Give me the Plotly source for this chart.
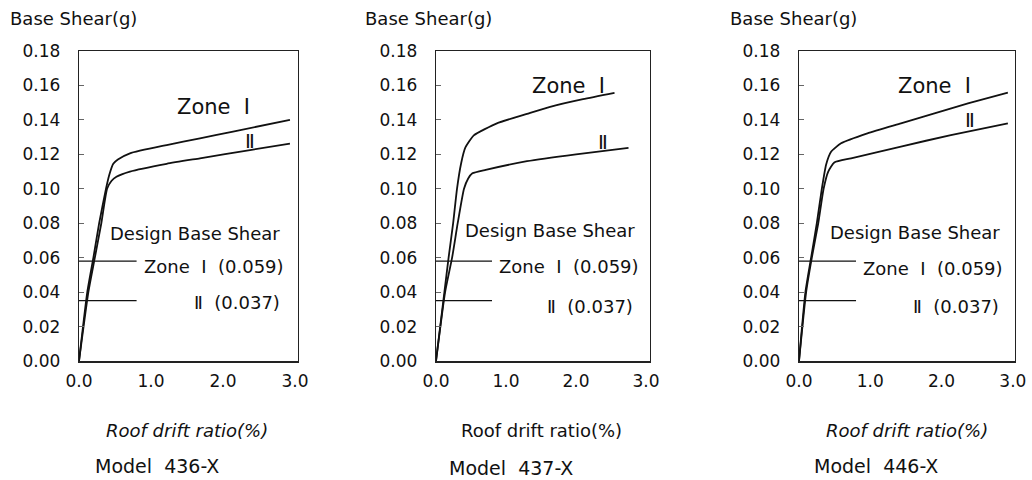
import plotly.graph_objects as go

# ---------------- data ----------------
models = ["Model  436-X", "Model  437-X", "Model  446-X"]

# Pushover curves (roof drift ratio %, base shear g)
p1_zone1_x = [0, 0.115, 0.20, 0.28, 0.375, 0.42, 0.476, 0.54, 0.708, 1.218, 1.68, 2.14, 2.93]
p1_zone1_y = [0, 0.040, 0.060, 0.080, 0.100, 0.108, 0.1145, 0.117, 0.1206, 0.1254, 0.1293, 0.1332, 0.140]
p1_zone2_x = [0, 0.13, 0.22, 0.31, 0.39, 0.45, 0.52, 0.708, 1.218, 1.68, 2.375, 2.93]
p1_zone2_y = [0, 0.040, 0.060, 0.080, 0.100, 0.1045, 0.107, 0.110, 0.1145, 0.1177, 0.1225, 0.1262]

p2_zone1_x = [0, 0.12, 0.18, 0.245, 0.30, 0.36, 0.42, 0.54, 0.87, 1.30, 1.63, 2.10, 2.55]
p2_zone1_y = [0, 0.040, 0.060, 0.080, 0.100, 0.115, 0.124, 0.131, 0.138, 0.1435, 0.1476, 0.152, 0.1557]
p2_zone2_x = [0, 0.13, 0.23, 0.31, 0.40, 0.46, 0.52, 0.71, 1.30, 2.00, 2.75]
p2_zone2_y = [0, 0.040, 0.060, 0.080, 0.100, 0.106, 0.109, 0.111, 0.116, 0.120, 0.1237]

p3_zone1_x = [0, 0.09, 0.17, 0.25, 0.32, 0.38, 0.45, 0.59, 0.96, 1.43, 1.90, 2.37, 2.93]
p3_zone1_y = [0, 0.040, 0.060, 0.080, 0.100, 0.114, 0.1215, 0.1264, 0.1322, 0.138, 0.1438, 0.1496, 0.1558]
p3_zone2_x = [0, 0.10, 0.18, 0.27, 0.345, 0.41, 0.495, 0.73, 1.43, 2.13, 2.93]
p3_zone2_y = [0, 0.040, 0.060, 0.080, 0.100, 0.110, 0.1153, 0.1177, 0.1245, 0.1312, 0.138]

design_x = [0, 0.8]
design_zone1 = 0.058
design_zone2 = 0.035

x_ticks = [0, 1, 2, 3]
x_tick_text = ["0.0", "1.0", "2.0", "3.0"]
y_ticks = [0, 0.02, 0.04, 0.06, 0.08, 0.10, 0.12, 0.14, 0.16, 0.18]
y_tick_text = ["0.00", "0.02", "0.04", "0.06", "0.08", "0.10", "0.12", "0.14", "0.16", "0.18"]

# label positions (data coords) per panel: design, zone1 design, zone2 design, zone1 curve, zone2 curve
panel_labels = [
    dict(design=(0.40, 0.0743), z1d=(0.875, 0.055), z2d=(1.57, 0.0337), z1=(1.33, 0.1475), z2=(2.375, 0.1278)),
    dict(design=(0.386, 0.076), z1d=(0.87, 0.0548), z2d=(1.56, 0.0315), z1=(1.34, 0.1597), z2=(2.39, 0.1269)),
    dict(design=(0.40, 0.0745), z1d=(0.87, 0.0538), z2d=(1.57, 0.0315), z1=(1.36, 0.1597), z2=(2.40, 0.140)),
]

# ---------------- layout geometry (pixels) ----------------
W, H = 1032, 480
FONT = "DejaVu Sans"
boxes = [(79, 298, 3.042), (436, 650, 3.057), (799, 1015, 3.03)]
y_top, y_bot = 51, 361

curves = [
    (p1_zone1_x, p1_zone1_y, p1_zone2_x, p1_zone2_y),
    (p2_zone1_x, p2_zone1_y, p2_zone2_x, p2_zone2_y),
    (p3_zone1_x, p3_zone1_y, p3_zone2_x, p3_zone2_y),
]

fig = go.Figure()
line_style = dict(color="#111111", width=1.8, shape="spline", smoothing=0.5)
for i, (ax, ay, bx, by) in enumerate(curves):
    xa = "x" if i == 0 else f"x{i+1}"
    ya = "y" if i == 0 else f"y{i+1}"
    fig.add_trace(go.Scatter(x=ax, y=ay, mode="lines", line=line_style,
                             xaxis=xa, yaxis=ya, showlegend=False, hoverinfo="skip"))
    fig.add_trace(go.Scatter(x=bx, y=by, mode="lines", line=line_style,
                             xaxis=xa, yaxis=ya, showlegend=False, hoverinfo="skip"))
    fig.add_trace(go.Scatter(x=design_x, y=[design_zone1] * 2, mode="lines",
                             line=dict(color="#111111", width=1.3),
                             xaxis=xa, yaxis=ya, showlegend=False, hoverinfo="skip"))
    fig.add_trace(go.Scatter(x=design_x, y=[design_zone2] * 2, mode="lines",
                             line=dict(color="#111111", width=1.3),
                             xaxis=xa, yaxis=ya, showlegend=False, hoverinfo="skip"))

layout = dict(
    width=W, height=H,
    margin=dict(l=0, r=0, t=0, b=0, autoexpand=False),
    paper_bgcolor="white", plot_bgcolor="white",
    font=dict(family=FONT, size=17, color="#111111"),
    showlegend=False,
)

annotations = []
ydom = [1 - y_bot / H, 1 - y_top / H]
for i, (x0, x1, xmax) in enumerate(boxes):
    sfx = "" if i == 0 else str(i + 1)
    layout["xaxis" + sfx] = dict(
        domain=[x0 / W, x1 / W], range=[0, xmax], anchor="y" + sfx, automargin=False,
        tickvals=x_ticks, ticktext=x_tick_text, ticks="",
        showgrid=False, zeroline=False, showline=True, linecolor="#222222", linewidth=1.5,
        mirror=True, ticklabelstandoff=4, tickfont=dict(size=17, family=FONT, color="#111111"),
    )
    layout["yaxis" + sfx] = dict(
        domain=ydom, range=[0, 0.18], anchor="x" + sfx, automargin=False,
        tickvals=y_ticks, ticktext=y_tick_text, ticks="inside", ticklen=5, tickcolor="#666666",
        showgrid=False, zeroline=False, showline=True, linecolor="#222222", linewidth=1.2,
        mirror=True, ticklabelstandoff=14, tickfont=dict(size=17, family=FONT, color="#111111"),
    )
    xr, yr = "x" + sfx, "y" + sfx
    lab = panel_labels[i]
    annotations += [
        dict(x=lab["design"][0], y=lab["design"][1], xref=xr, yref=yr, text="Design Base Shear",
             showarrow=False, xanchor="left", yanchor="middle", font=dict(size=18)),
        dict(x=lab["z1d"][0], y=lab["z1d"][1], xref=xr, yref=yr,
             text="Zone\u00a0\u00a0Ⅰ\u00a0\u00a0(0.059)",
             showarrow=False, xanchor="left", yanchor="middle", font=dict(size=18)),
        dict(x=lab["z2d"][0], y=lab["z2d"][1], xref=xr, yref=yr,
             text="Ⅱ\u00a0\u00a0(0.037)",
             showarrow=False, xanchor="left", yanchor="middle", font=dict(size=18)),
        dict(x=lab["z1"][0], y=lab["z1"][1], xref=xr, yref=yr,
             text="Zone\u00a0\u00a0Ⅰ",
             showarrow=False, xanchor="left", yanchor="middle", font=dict(size=21)),
        dict(x=lab["z2"][0], y=lab["z2"][1], xref=xr, yref=yr,
             text="Ⅱ",
             showarrow=False, xanchor="center", yanchor="middle", font=dict(size=20)),
    ]

# panel titles / axis titles / model labels (pixel positions)
ytitle_x = [8, 363, 728]
xtitle_cx = [187, 541, 907]
model_cx = [157, 511, 876]
model_cy = [466, 468, 466]
xtitle_italic = [True, False, True]
for i in range(3):
    annotations.append(dict(x=ytitle_x[i] / W, y=1 - 19 / H, xref="paper", yref="paper",
                            text="Base Shear(g)", showarrow=False, xanchor="left", yanchor="middle",
                            font=dict(size=18)))
    t = "Roof drift ratio(%)"
    if xtitle_italic[i]:
        t = "<i>" + t + "</i>"
    annotations.append(dict(x=xtitle_cx[i] / W, y=1 - 430 / H, xref="paper", yref="paper",
                            text=t, showarrow=False, xanchor="center", yanchor="middle",
                            font=dict(size=18)))
    annotations.append(dict(x=model_cx[i] / W, y=1 - model_cy[i] / H, xref="paper", yref="paper",
                            text=models[i], showarrow=False, xanchor="center", yanchor="middle",
                            font=dict(size=19)))

layout["annotations"] = annotations
fig.update_layout(**layout)
fig.write_html(
    "out.html",
    config={"displayModeBar": False, "staticPlot": True},
    post_script="document.body.style.margin='0';document.body.style.padding='0';"
                "document.documentElement.style.overflow='hidden';",
)
